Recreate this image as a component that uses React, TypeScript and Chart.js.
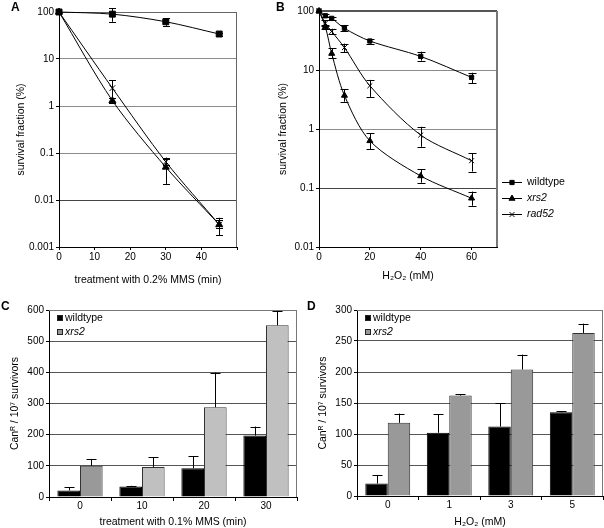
import React, { useEffect, useRef } from 'react';
import { Chart, registerables } from 'chart.js';
import { drawPoint } from 'chart.js/helpers';
Chart.register(...registerables);

const FONT = "'Liberation Sans', Arial, sans-serif";
Chart.defaults.font.family = FONT;
Chart.defaults.color = '#000';

// ---------- Panel A: MMS survival ----------
const aTimes = [0, 15, 30, 45];
const aWildtype = [100, 90, 62, 34];
const aWildtypeLow = [null, 62, 51, 31];
const aWildtypeHigh = [null, 120, 73, 36];
const aXrs2 = [100, 1.3, 0.05, 0.003];
const aXrs2Low = [null, 1.15, 0.022, 0.0018];
const aXrs2High = [null, 1.45, 0.075, 0.0042];
const aRad52 = [100, 2.4, 0.065, 0.003];
const aRad52Low = [null, 1.5, 0.055, 0.0025];
const aRad52High = [null, 3.5, 0.08, 0.0037];
const aYTicks = [0.001, 0.01, 0.1, 1, 10, 100];

// ---------- Panel B: H2O2 survival ----------
const bDoses = [0, 2.5, 5, 10, 20, 40, 60];
const bWildtype = [100, 83, 75, 51, 31, 17, 7.5];
const bWildtypeLow = [null, 78, 71, 45, 28, 14.4, 6.0];
const bWildtypeHigh = [null, 88, 79, 58, 33, 20.4, 9.0];
const bXrs2 = [100, 54, 19, 3.7, 0.63, 0.16, 0.067];
const bXrs2Low = [null, 49, 15.8, 2.9, 0.45, 0.123, 0.05];
const bXrs2High = [null, 59, 23.4, 4.7, 0.85, 0.21, 0.087];
const bRad52 = [100, 62, 45, 24, 5.4, 0.79, 0.29];
const bRad52Low = [null, 55, 40, 20, 3.5, 0.5, 0.19];
const bRad52High = [null, 70, 50, 28, 6.8, 1.09, 0.39];
const bYTicks = [0.01, 0.1, 1, 10, 100];

// ---------- Panel C: CanR mutants, MMS ----------
const cCategories = ['0', '10', '20', '30'];
const cWildtype = [21, 34, 92, 197];
const cWildtypeErr = [32, 36, 131, 226];
const cXrs2 = [100, 96, 288, 551];
const cXrs2Err = [122, 128, 399, 597];

// ---------- Panel D: CanR mutants, H2O2 ----------
const dCategories = ['0', '1', '3', '5'];
const dWildtype = [20, 102, 112, 135];
const dWildtypeErr = [34, 132, 150, 137];
const dXrs2 = [118, 162, 204, 263];
const dXrs2Err = [133, 164, 228, 278];

const TRANSPARENT = 'rgba(0,0,0,0)';

const errorBarPlugin = {
  id: 'errorBars',
  afterDatasetsDraw(chart: any) {
    const ctx = chart.ctx;
    chart.data.datasets.forEach((ds: any, di: number) => {
      const eb = ds.errorBars;
      if (!eb) return;
      const meta = chart.getDatasetMeta(di);
      const yScale = chart.scales[meta.yAxisID];
      ctx.save();
      ctx.strokeStyle = eb.color || '#000';
      ctx.lineWidth = 1;
      meta.data.forEach((el: any, i: number) => {
        const hi = eb.high ? eb.high[i] : null;
        const lo = eb.low ? eb.low[i] : null;
        if (hi == null && lo == null) return;
        const x = Math.round(el.x) + 0.5;
        const yTop = hi != null ? yScale.getPixelForValue(hi) : el.y;
        const yBot = lo != null ? yScale.getPixelForValue(lo) : el.y;
        const cw = eb.cap;
        ctx.beginPath();
        ctx.moveTo(x, yTop);
        ctx.lineTo(x, yBot);
        if (hi != null) {
          ctx.moveTo(x - cw, Math.round(yTop) + 0.5);
          ctx.lineTo(x + cw, Math.round(yTop) + 0.5);
        }
        if (lo != null) {
          ctx.moveTo(x - cw, Math.round(yBot) + 0.5);
          ctx.lineTo(x + cw, Math.round(yBot) + 0.5);
        }
        ctx.stroke();
      });
      ctx.restore();
    });
  },
};

function makeFrame(top: any, right: any) {
  return {
    id: 'frame',
    beforeDatasetsDraw(chart: any) {
      const { ctx, chartArea: a } = chart;
      ctx.save();
      if (top) {
        ctx.strokeStyle = top.color;
        ctx.lineWidth = top.width;
        ctx.beginPath();
        ctx.moveTo(a.left, a.top + (top.width % 2 ? 0.5 : 0));
        ctx.lineTo(a.right, a.top + (top.width % 2 ? 0.5 : 0));
        ctx.stroke();
      }
      if (right) {
        ctx.strokeStyle = right.color;
        ctx.lineWidth = right.width;
        ctx.beginPath();
        ctx.moveTo(a.right - (right.width % 2 ? 0.5 : 0), a.top);
        ctx.lineTo(a.right - (right.width % 2 ? 0.5 : 0), a.bottom);
        ctx.stroke();
      }
      ctx.restore();
    },
  };
}

function makeLineLegend(x: number, y: number, dy: number, len: number) {
  return {
    id: 'lineLegend',
    afterDraw(chart: any) {
      const ctx = chart.ctx;
      chart.data.datasets.forEach((ds: any, i: number) => {
        const yy = y + i * dy + 0.5;
        ctx.save();
        ctx.strokeStyle = '#000';
        ctx.fillStyle = '#000';
        ctx.lineWidth = 1;
        ctx.beginPath();
        ctx.moveTo(x, yy);
        ctx.lineTo(x + len, yy);
        ctx.stroke();
        drawPoint(ctx, { pointStyle: ds.pointStyle, radius: ds.legendRadius, borderWidth: 1, rotation: 0 } as any, x + len / 2, yy);
        ctx.font = `${ds.italic ? 'italic ' : ''}10.5px ${FONT}`;
        ctx.textBaseline = 'middle';
        ctx.textAlign = 'left';
        ctx.fillText(ds.label, x + len + 5, yy);
        ctx.restore();
      });
    },
  };
}

function makeBoxLegend(dx: number, dy: number, step: number) {
  return {
    id: 'boxLegend',
    afterDraw(chart: any) {
      const { ctx, chartArea: a } = chart;
      chart.data.datasets.forEach((ds: any, i: number) => {
        const cy = Math.round(a.top + dy + i * step);
        const x0 = Math.round(a.left + dx);
        ctx.save();
        ctx.fillStyle = ds.legendColor;
        ctx.fillRect(x0, cy - 3, 6, 6);
        ctx.strokeStyle = '#222';
        ctx.lineWidth = 1;
        ctx.strokeRect(x0 + 0.5, cy - 2.5, 5, 5);
        ctx.fillStyle = '#000';
        ctx.font = `${ds.italic ? 'italic ' : ''}10.5px ${FONT}`;
        ctx.textBaseline = 'middle';
        ctx.textAlign = 'left';
        ctx.fillText(ds.label, x0 + 8, cy + 0.5);
        ctx.restore();
      });
    },
  };
}

const tickFont = { size: 10, family: FONT };
const titleFont = { size: 10.5, family: FONT };

function logY(ticks: number[], gridColor: (v: number) => string, width: number, titlePad: number) {
  return {
    type: 'logarithmic',
    min: ticks[0],
    max: ticks[ticks.length - 1],
    afterBuildTicks: (s: any) => {
      s.ticks = ticks.map((v) => ({ value: v }));
    },
    afterFit: (s: any) => {
      s.width = width;
    },
    ticks: { callback: (v: any) => String(v), font: tickFont, color: '#000', padding: 2, autoSkip: false },
    grid: { color: (c: any) => gridColor(c.tick.value), lineWidth: 1, tickLength: 3, tickColor: '#000' },
    border: { color: '#000', width: 1 },
    title: { display: true, text: 'survival fraction (%)', font: titleFont, color: '#000', padding: { top: titlePad, bottom: 0 } },
  };
}

function linX(max: number, step: number, height: number, title: string, padBottom: number) {
  return {
    type: 'linear',
    min: 0,
    max,
    afterFit: (s: any) => {
      s.height = height;
    },
    ticks: { stepSize: step, includeBounds: false, callback: (v: any) => (v === max ? '' : String(v)), font: tickFont, color: '#000', padding: 1, maxRotation: 0, autoSkip: false },
    grid: { drawOnChartArea: false, tickLength: 3, tickColor: '#000' },
    border: { color: '#000', width: 1 },
    title: { display: true, text: title, font: titleFont, color: '#000', padding: { top: 0, bottom: padBottom } },
  };
}

function pts(xs: number[], ys: number[]) {
  return xs.map((x, i) => ({ x, y: ys[i] }));
}

function lineDs(label: string, xs: number[], ys: number[], lo: any[], hi: any[], style: string, r: number, cap: number, italic: boolean) {
  return {
    label,
    data: pts(xs, ys),
    borderColor: '#000',
    backgroundColor: '#000',
    borderWidth: 1,
    pointStyle: style,
    pointRadius: r,
    legendRadius: r,
    pointBackgroundColor: '#000',
    pointBorderColor: '#000',
    pointBorderWidth: 1,
    tension: 0.3,
    clip: false,
    errorBars: { low: lo, high: hi, cap },
    italic,
  };
}

const baseOptions = {
  responsive: false,
  animation: false,
  events: [],
  plugins: { legend: { display: false }, tooltip: { enabled: false } },
};

const configA: any = {
  type: 'line',
  data: {
    datasets: [
      lineDs('wildtype', aTimes, aWildtype, aWildtypeLow, aWildtypeHigh, 'rect', 4.2, 3.5, false),
      lineDs('xrs2', aTimes, aXrs2, aXrs2Low, aXrs2High, 'triangle', 4, 3.5, true),
      lineDs('rad52', aTimes, aRad52, aRad52Low, aRad52High, 'crossRot', 4, 3.5, true),
    ],
  },
  options: {
    ...baseOptions,
    layout: { padding: { top: 12, right: 8, left: 0, bottom: 0 } },
    scales: {
      x: linX(50, 10, 45, 'treatment with 0.2% MMS (min)', 6),
      y: logY(aYTicks, (v) => (v === 100 || v === 0.001 ? TRANSPARENT : v === 0.01 ? '#444' : '#8c8c8c'), 59, 15),
    },
  },
  plugins: [makeFrame({ color: '#666', width: 1 }, { color: '#666', width: 1 }), errorBarPlugin],
};

const configB: any = {
  type: 'line',
  data: {
    datasets: [
      lineDs('wildtype', bDoses, bWildtype, bWildtypeLow, bWildtypeHigh, 'rect', 3, 4, false),
      lineDs('xrs2', bDoses, bXrs2, bXrs2Low, bXrs2High, 'triangle', 3.5, 4, true),
      lineDs('rad52', bDoses, bRad52, bRad52Low, bRad52High, 'crossRot', 3.5, 4, true),
    ],
  },
  options: {
    ...baseOptions,
    layout: { padding: { top: 11, right: 107, left: 0, bottom: 0 } },
    scales: {
      x: linX(70, 20, 45, 'H₂O₂ (mM)', 10),
      y: logY(bYTicks, (v) => (v === 100 || v === 0.01 ? TRANSPARENT : v === 0.1 ? '#444' : '#8c8c8c'), 79, 37),
    },
  },
  plugins: [makeFrame({ color: '#555', width: 2 }, { color: '#777', width: 2 }), errorBarPlugin, makeLineLegend(262, 182, 16, 20)],
};

function barConfig(cats: string[], wt: number[], wtErr: number[], xr: number[], xrErr: number[], xrColors: string[], yMax: number, yStep: number, yWidth: number, yTitlePad: number, xHeight: number, xTitle: string, padRight: number) {
  return {
    type: 'bar',
    data: {
      labels: cats,
      datasets: [
        { label: 'wildtype', data: wt, backgroundColor: '#000', borderColor: '#000', borderWidth: 1, categoryPercentage: 0.73, barPercentage: 1, errorBars: { high: wtErr, cap: 5 }, legendColor: '#000', italic: false },
        { label: 'xrs2', data: xr, backgroundColor: xrColors, borderColor: '#333', borderWidth: 1, categoryPercentage: 0.73, barPercentage: 1, errorBars: { high: xrErr, cap: 5 }, legendColor: '#999', italic: true },
      ],
    },
    options: {
      ...baseOptions,
      layout: { padding: { top: 14, right: padRight, left: 0, bottom: 0 } },
      scales: {
        x: {
          afterFit: (s: any) => {
            s.height = xHeight;
          },
          ticks: { font: tickFont, color: '#000', padding: -1, maxRotation: 0 },
          grid: { drawOnChartArea: false, tickLength: 4, tickColor: '#000', offset: true },
          border: { color: '#000', width: 1 },
          title: { display: true, text: xTitle, font: titleFont, color: '#000', padding: { top: 0, bottom: 0 } },
        },
        y: {
          min: 0,
          max: yMax,
          afterFit: (s: any) => {
            s.width = yWidth;
          },
          ticks: { stepSize: yStep, font: tickFont, color: '#000', padding: 2 },
          grid: { color: (c: any) => (c.tick.value === 0 || c.tick.value === yMax ? TRANSPARENT : '#555'), tickLength: 3, tickColor: '#000' },
          border: { color: '#000', width: 1 },
          title: { display: true, text: 'Canᴿ / 10⁷ survivors', font: titleFont, color: '#000', padding: { top: yTitlePad, bottom: 0 } },
        },
      },
    },
    plugins: [makeFrame({ color: '#777', width: 1 }, { color: '#777', width: 1 }), errorBarPlugin, makeBoxLegend(8, 8, 13.5)],
  };
}

const configC: any = barConfig(cCategories, cWildtype, cWildtypeErr, cXrs2, cXrs2Err, ['#999999', '#c0c0c0', '#c0c0c0', '#c0c0c0'], 600, 100, 49, 9, 31, 'treatment with 0.1% MMS (min)', 7);
const configD: any = barConfig(dCategories, dWildtype, dWildtypeErr, dXrs2, dXrs2Err, ['#999999', '#999999', '#999999', '#999999'], 300, 50, 57, 17, 32, 'H₂O₂ (mM)', 1);

function ChartCanvas({ config, left, top, width, height }: any) {
  const ref = useRef<HTMLCanvasElement>(null);
  useEffect(() => {
    const chart = new Chart(ref.current as HTMLCanvasElement, config);
    return () => chart.destroy();
  }, []);
  return <canvas ref={ref} width={width} height={height} style={{ position: 'absolute', left, top, width, height }} />;
}

function PanelLabel({ text, left, top }: any) {
  return (
    <div style={{ position: 'absolute', left, top, fontFamily: FONT, fontWeight: 'bold', fontSize: 12, lineHeight: '12px', color: '#000' }}>
      {text}
    </div>
  );
}

export default function App() {
  return (
    <div style={{ position: 'absolute', left: 0, top: 0, width: 604, height: 528, background: '#fff', overflow: 'hidden' }}>
      <ChartCanvas config={configA} left={0} top={0} width={245} height={292} />
      <ChartCanvas config={configB} left={240} top={0} width={364} height={292} />
      <ChartCanvas config={configC} left={0} top={296} width={304} height={232} />
      <ChartCanvas config={configD} left={300} top={296} width={304} height={232} />
      <PanelLabel text="A" left={11} top={1} />
      <PanelLabel text="B" left={276} top={1} />
      <PanelLabel text="C" left={1} top={300} />
      <PanelLabel text="D" left={307} top={300} />
    </div>
  );
}
